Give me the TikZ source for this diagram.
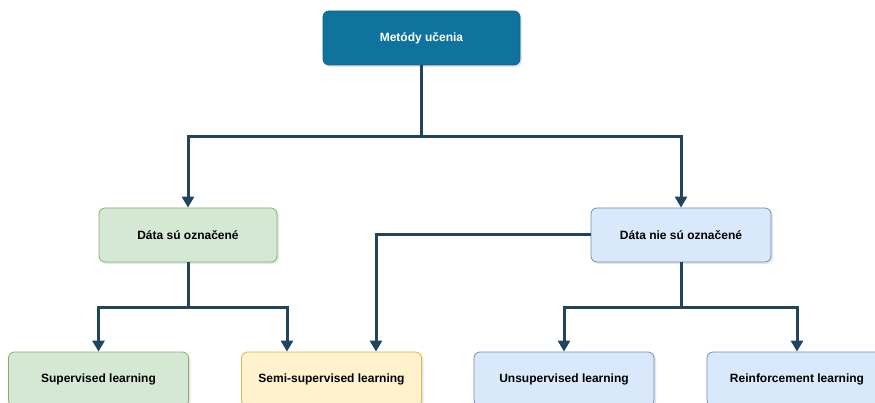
\documentclass[tikz,border=0pt]{standalone}
\usepackage{fontspec}
\setmainfont{Liberation Sans}
\usepackage{xcolor}
\usepackage{tikz}
\usetikzlibrary{arrows.meta,shadows}
\definecolor{topfill}{HTML}{10739E}
\definecolor{topline}{HTML}{0E6388}
\definecolor{grfill}{HTML}{D5E8D4}
\definecolor{grline}{HTML}{82B366}
\definecolor{blfill}{HTML}{DAE8FC}
\definecolor{blline}{HTML}{6C8EBF}
\definecolor{yefill}{HTML}{FFF2CC}
\definecolor{yeline}{HTML}{D6B656}
\definecolor{arrowcol}{HTML}{23445D}

\begin{document}
\begin{tikzpicture}[x=1pt,y=-1pt,
  box/.style={rounded corners=6pt, minimum width=180pt, minimum height=54pt, line width=0.8pt,
    font=\fontsize{12}{14}\selectfont\bfseries,
    drop shadow={shadow xshift=2pt,shadow yshift=-2pt,opacity=0.2}},
  conn/.style={draw=arrowcol, line width=3pt, -{Triangle[length=11pt,width=12pt]}}]
\useasboundingbox (0,0) rectangle (875,403);
\clip (0,0) rectangle (875,403);
% boxes
\node[box, fill=topfill, draw=topline, text=white, minimum width=197pt] (metody) at (421.5,38) {Metódy učenia};
\node[box, fill=grfill, draw=grline, minimum width=178pt] (oznac) at (188,235) {Dáta sú označené};
\node[box, fill=blfill, draw=blline] (neoznac) at (681,235) {Dáta nie sú označené};
\node[box, fill=grfill, draw=grline] (superv) at (98.5,379) {Supervised learning};
\node[box, fill=yefill, draw=yeline] (semi) at (331.5,379) {Semi-supervised learning};
\node[box, fill=blfill, draw=blline] (unsuperv) at (564,379) {Unsupervised learning};
\node[box, fill=blfill, draw=blline] (reinf) at (797,379) {Reinforcement learning};
% joints
\coordinate (j0) at (421.5,137);
\coordinate (j1) at (188,307);
\coordinate (j2) at (681,307);
% connectors
\draw[conn] (metody.south) -- (j0) -| (oznac.north);
\draw[conn] (j0) -| (neoznac.north);
\draw[conn] (oznac.south) -- (j1) -| (superv.north);
\draw[conn] (j1) -| ([xshift=-44.5pt]semi.north);
\draw[conn] (neoznac.west) -| ([xshift=44.5pt]semi.north);
\draw[conn] (neoznac.south) -- (j2) -| (unsuperv.north);
\draw[conn] (j2) -| (reinf.north);
\end{tikzpicture}
\end{document}
